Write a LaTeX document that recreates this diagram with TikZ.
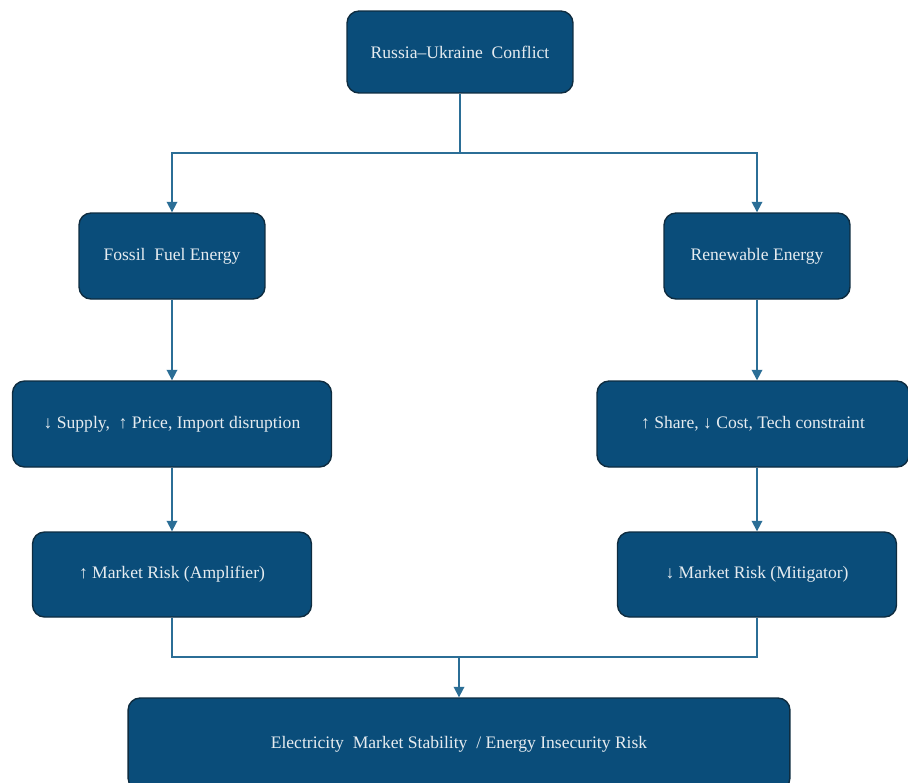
\documentclass[tikz,border=0pt]{standalone}
\usepackage{fontspec}
\setmainfont{Liberation Serif}
\usetikzlibrary{arrows.meta}
\definecolor{boxblue}{HTML}{0A4D7A}
\definecolor{boxedge}{HTML}{0E2C40}
\definecolor{linkblue}{HTML}{2B6E96}
\definecolor{boxtext}{HTML}{E6ECF0}
\tikzset{
  box/.style={draw=boxedge,fill=boxblue,rounded corners=0.24cm,text=boxtext,
    font=\fontsize{10}{12}\selectfont,line width=0.8pt,inner sep=0pt},
  link/.style={draw=linkblue,line width=1pt},
  arr/.style={link,-{Triangle[length=6pt,width=6pt]}}
}
\begin{document}
\begin{tikzpicture}[x=0.02cm,y=-0.02cm]
\useasboundingbox (0,0) rectangle (908,782);
%\draw [red] (0,0) rectangle (908,782);
\node [box,minimum width=4.52cm,minimum height=1.64cm] (war) at (460,52) {Russia–Ukraine\ \ Conflict};

\node [box,minimum width=3.72cm,minimum height=1.72cm] (fossil) at (172,256) {Fossil\ \ Fuel Energy};
\node [box,minimum width=3.72cm,minimum height=1.72cm] (renew) at (757,256) {Renewable Energy};

\node [box,minimum width=6.38cm,minimum height=1.72cm] (supply) at (172,424) {↓ Supply,\ \ ↑ Price, Import disruption};
\node [box,minimum width=6.24cm,minimum height=1.72cm] (share) at (753,424) {↑ Share, ↓ Cost, Tech constraint};

\node [box,minimum width=5.58cm,minimum height=1.70cm] (amp) at (172,574.5) {↑ Market Risk (Amplifier)};
\node [box,minimum width=5.58cm,minimum height=1.70cm] (mit) at (757,574.5) {↓ Market Risk (Mitigator)};

\node [box,minimum width=13.24cm,minimum height=1.84cm] (grid) at (459,744) {Electricity\ \ Market Stability\ \ / Energy Insecurity Risk};

\coordinate (split) at (460,153);
\coordinate (join) at (459,657);

\draw[link](war) -- (split);
\draw[arr](split) -| (fossil);
\draw[arr](split) -| (renew);
\draw[arr](fossil) -- (supply.north -| fossil);
\draw[arr](renew) -- (share.north -| renew);
\draw[arr](supply.south -| amp) -- (amp);
\draw[arr](share.south -| mit) -- (mit);
\draw[link](amp) |- (join);
\draw[link](mit) |- (join);
\draw[arr](join) -- (grid);
\end{tikzpicture}
\end{document}
